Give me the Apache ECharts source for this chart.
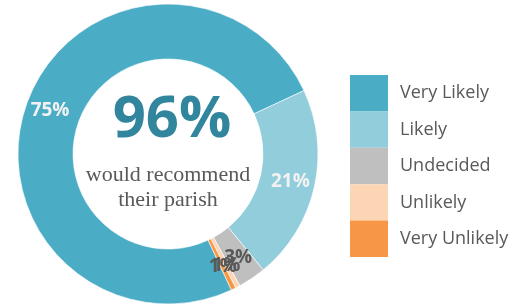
<!DOCTYPE html>
<html>
<head>
<meta charset="utf-8">
<script src="https://cdn.jsdelivr.net/npm/echarts@6/dist/echarts.min.js"></script>
<style>
    html, body { margin: 0; padding: 0; background: #fff; }
    #chart { width: 532px; height: 305px; }
</style>
</head>
<body>
<div id="chart"></div>
<script>
    // data
    var categories = ['Very Likely', 'Likely', 'Undecided', 'Unlikely', 'Very Unlikely'];
    var values = [75, 21, 3, 0.5, 0.5];
    var colors = ['#4BACC6', '#92CDDC', '#BFBFBF', '#FCD5B5', '#F79646'];
    var labelColors = ['#F2F2F2', '#F2F2F2', '#595959', '#595959', '#595959'];
    var headline = '96%';
    var subline = ['would recommend', 'their parish'];

    var data = [];
    for (var i = 0; i < categories.length; i++) {
        data.push({
            name: categories[i],
            value: values[i],
            itemStyle: { color: colors[i] },
            label: { color: labelColors[i] }
        });
    }

    var chart = echarts.init(document.getElementById('chart'));
    var option = {
        animation: false,
        legend: {
            orient: 'vertical',
            left: 350,
            top: 75,
            padding: 0,
            icon: 'rect',
            itemWidth: 38,
            itemHeight: 36.4,
            itemGap: 0,
            itemStyle: { borderWidth: 0 },
            data: categories,
            textStyle: {
                fontFamily: 'Open Sans',
                fontSize: 18,
                color: '#595959',
                padding: [0, 0, 0, 7]
            }
        },
        graphic: [
            {
                type: 'text',
                x: 172, y: 120,
                style: {
                    text: headline,
                    font: 'bold 58px "Open Sans"',
                    fill: '#31859C',
                    align: 'center',
                    verticalAlign: 'middle'
                }
            },
            {
                type: 'text',
                x: 168, y: 175,
                style: {
                    text: subline[0],
                    font: '22px "Liberation Serif"',
                    fill: '#595959',
                    align: 'center',
                    verticalAlign: 'middle'
                }
            },
            {
                type: 'text',
                x: 168, y: 200,
                style: {
                    text: subline[1],
                    font: '22px "Liberation Serif"',
                    fill: '#595959',
                    align: 'center',
                    verticalAlign: 'middle'
                }
            }
        ],
        series: [{
            type: 'pie',
            center: [168, 154],
            radius: [95, 150],
            startAngle: -65,
            clockwise: true,
            avoidLabelOverlap: false,
            minShowLabelAngle: 0,
            itemStyle: { borderColor: '#fff', borderWidth: 0.6 },
            label: {
                show: true,
                position: 'inside',
                fontFamily: 'Open Sans',
                fontWeight: 'bold',
                fontSize: 19,
                formatter: function (p) { return Math.round(p.value) + '%'; }
            },
            labelLayout: { hideOverlap: false },
            labelLine: { show: false },
            data: data
        }]
    };
    chart.setOption(option);
</script>
</body>
</html>
